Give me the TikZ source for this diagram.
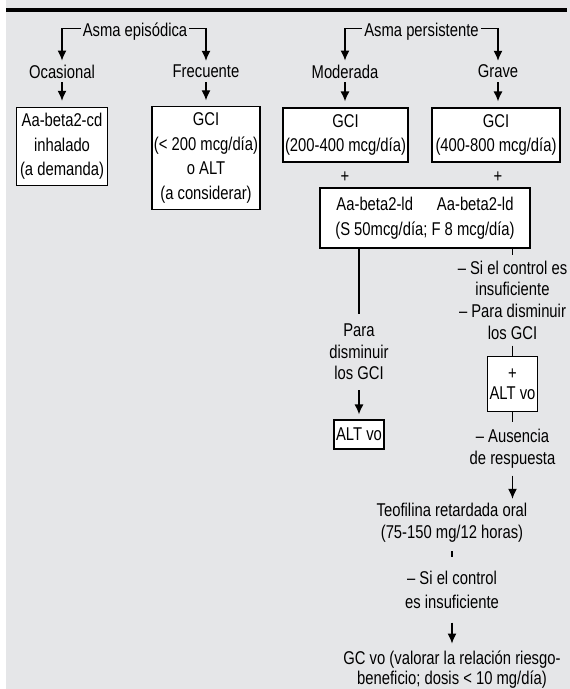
\documentclass[tikz,border=0pt]{standalone}
\usepackage{fontspec}
\setmainfont{Liberation Sans}[FakeStretch=0.8]
\usepackage{tikz}
\usetikzlibrary{arrows.meta}
\definecolor{panel}{RGB}{229,230,232}
\tikzset{
  basic/.style = {font=\fontsize{18.5}{21.7}\selectfont, align=center},
  box/.style   = {basic, draw, fill=white, line width=1.2pt, inner xsep=1.5pt, inner ysep=6pt, font=\fontsize{18.5}{24.5}\selectfont},
  txt/.style   = {basic, inner xsep=2pt, inner ysep=4pt},
  conn/.style  = {line width=1.2pt},
  arr/.style   = {conn, ->}
}

\begin{document}
\begin{tikzpicture}[x=1pt, y=-1pt, >={Latex[length=10pt,width=9pt]}]

% panel and top rule
\fill[white] (0,0) rectangle (570,689);
\fill[panel] (6,0) rectangle (570,689);
\fill[black] (6,8.3) rectangle (567,11.7);
\useasboundingbox (0,0) rectangle (570,689);

% first level
\node[txt] (episod) at (135,31.5) {Asma episódica};
\node[txt] (persist) at (421.5,31.5) {Asma persistente};

% second level
\node[txt] (ocas) at (62,71.5) {Ocasional};
\node[txt] (frec) at (206,71.5) {Frecuente};
\node[txt] (mod) at (345,71.5) {Moderada};
\node[txt] (grave) at (498,71.5) {Grave};

% treatment boxes
\node[box, minimum width=91pt, minimum height=77pt] (aacd) at (62,146.5) {Aa-beta2-cd\\inhalado\\(a demanda)};
\node[box, minimum width=108pt, minimum height=100pt] (gcifrec) at (206,158) {GCI\\(< 200 mcg/día)\\o ALT\\(a considerar)};
\node[box, minimum width=125pt, minimum height=54pt] (gcimod) at (345.5,135) {GCI\\(200-400 mcg/día)};
\node[box, minimum width=128pt, minimum height=54pt] (gcigrave) at (496,135) {GCI\\(400-800 mcg/día)};
\node[txt] (plusmod) at (345,177) {+};
\node[txt] (plusgrave) at (498,177) {+};
\node[box, minimum width=210pt, minimum height=60pt] (ld) at (425,218) {Aa-beta2-ld\hspace{24pt}Aa-beta2-ld\\(S 50mcg/día; F 8 mcg/día)};

% left branch
\node[txt, inner ysep=10pt] (para) at (359,352) {Para\\disminuir\\los GCI};
\node[box, inner ysep=4pt, minimum width=50pt, minimum height=29pt] (altvo) at (359,434.5) {ALT vo};

% right branch
\node[txt, inner ysep=6pt] (siins) at (512.5,300.2) {– Si el control es\\insuficiente\\– Para disminuir\\los GCI};
\node[box, inner ysep=4pt, minimum width=50.6pt, minimum height=55pt, font=\fontsize{18.5}{20}\selectfont] (plusalt) at (512.5,384) {+\\ALT vo};
\node[txt, inner ysep=7pt] (aus) at (512.5,449) {– Ausencia\\de respuesta};
\node[txt] (teo) at (452,522.5) {Teofilina retardada oral\\(75-150 mg/12 horas)};
\node[txt, font=\fontsize{18.5}{23.3}\selectfont] (siins2) at (452,590) {– Si el control\\es insuficiente};
\node[txt, font=\fontsize{18.5}{20}\selectfont] (gcvo) at (452,669.5) {GC vo (valorar la relación riesgo-\\beneficio; dosis < 10 mg/día)};

% connectors
\draw[arr] ([yshift=3pt]episod.west) -| (ocas.north);
\draw[arr] ([yshift=3pt]episod.east) -| (frec.north);
\draw[arr] ([yshift=3pt]persist.west) -| (mod.north);
\draw[arr] ([yshift=3pt]persist.east) -| (grave.north);

\draw[arr, shorten >=6pt] (ocas.south) -- (ocas.south |- aacd.north);
\draw[arr, shorten >=6pt] (frec.south) -- (frec.south |- gcifrec.north);
\draw[arr, shorten >=6pt] (mod.south) -- (mod.south |- gcimod.north);
\draw[arr, shorten >=6pt] (grave.south) -- (grave.south |- gcigrave.north);

\draw[conn] (ld.south -| para) -- (para.north);
\draw[arr, shorten >=5pt] (para.south) -- (altvo.north);

\draw[conn] (ld.south -| siins) -- (siins.north);
\draw[conn] (siins.south) -- (plusalt.north);
\draw[conn] (plusalt.south) -- (aus.north);
\draw[arr] (aus.south) -- (aus.south |- teo.north);
\draw[conn, shorten <=5pt, shorten >=10pt] (teo.south) -- (siins2.north);
\draw[arr, shorten <=10pt, shorten >=3pt] (siins2.south) -- (gcvo.north);

\end{tikzpicture}
\end{document}
